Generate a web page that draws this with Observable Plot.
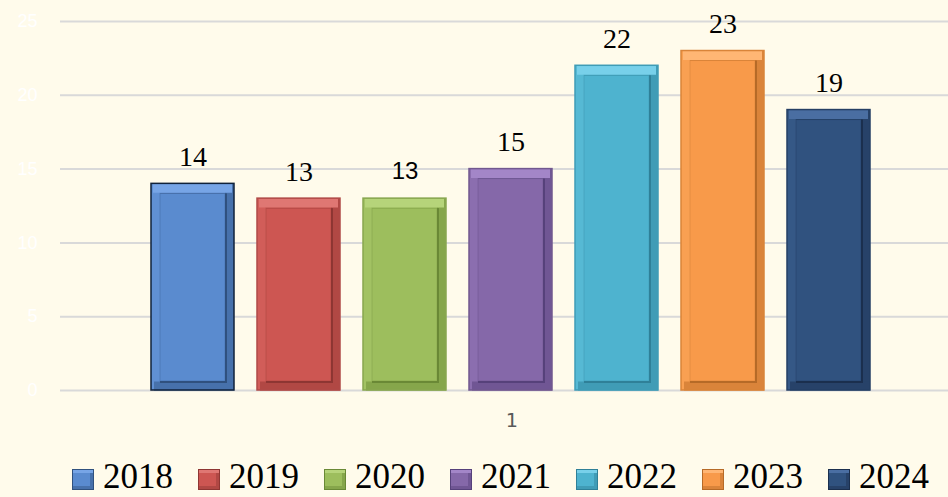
<!DOCTYPE html>
<html>
<head>
<meta charset="utf-8">
<script src="https://cdn.jsdelivr.net/npm/d3@7"></script>
<script src="https://cdn.jsdelivr.net/npm/@observablehq/plot@0.6"></script>
<style>
  html, body { margin: 0; padding: 0; background: #fffbeb; }
  #wrap { width: 948px; height: 497px; overflow: hidden; background: #fffbeb; }
  #legend { height: 57px; display: flex; align-items: flex-start; padding-left: 72px; box-sizing: border-box; padding-top: 23px; }
  .item { display: flex; align-items: flex-start; margin-right: 25px; }
  .sw { width: 20px; height: 19px; border: 1px solid #000; margin-right: 9px; margin-top: 6px; box-sizing: content-box; }
  .lab { font-family: "Liberation Serif", "Times New Roman", serif; font-size: 35px; line-height: 28px; color: #000; }
</style>
</head>
<body>
<div id="wrap">
  <div id="chart"></div>
  <div id="legend"></div>
</div>
<script>
// ---- data ----
const categories = ["1"];
const years = ["2018", "2019", "2020", "2021", "2022", "2023", "2024"];
const values = [14, 13, 13, 15, 22, 23, 19];
const yTicks = [0, 5, 10, 15, 20, 25];

// ---- palette (style) ----
const faceColors   = ["#5a8bcf", "#cd5652", "#9dbe5d", "#8568a9", "#4eb3cf", "#f89a4a", "#30527f"];
const lightColors  = ["#77a5e6", "#df7773", "#b6d47a", "#a386c8", "#78d0ea", "#ffb674", "#4a6ea2"];
const darkColors   = ["#30517e", "#8e3633", "#6a8936", "#56417b", "#2f8098", "#b66a27", "#1b2f4e"];
const borderColors = ["#10223a", "#b04a47", "#88a64f", "#71588f", "#3f9cb6", "#d98439", "#253f64"];
const midColors    = faceColors.map((c, i) => d3.interpolateRgb(c, darkColors[i])(0.45));
const leftColors   = faceColors.map((c, i) => d3.interpolateRgb(c, lightColors[i])(0.2));

const rows = years.map((yr, i) => ({category: categories[0], year: yr, value: values[i], i}));
const pick = (arr) => (d) => arr[d.i];

const common = {fx: "category", x: "year", y: "value"};

const chart = Plot.plot({
  width: 948,
  height: 440,
  marginLeft: 60,
  marginRight: 0,
  marginTop: 21,
  marginBottom: 50,
  style: {background: "#fffbeb", overflow: "visible"},
  fx: {domain: categories, paddingInner: 0, paddingOuter: 0, label: null},
  x: {domain: years, paddingInner: 0.217, paddingOuter: 0.797, align: 0.54, axis: null},
  y: {domain: [0, 25], axis: null},
  color: {type: "identity"},
  marks: [
    Plot.ruleY(yTicks, {stroke: "#d9d9d9", strokeWidth: 2}),
    Plot.axisY(yTicks, {tickSize: 0, tickPadding: 23, fill: "#ffffff", fontSize: 18,
      fontFamily: "Liberation Sans, Arial, sans-serif", label: null}),
    Plot.axisFx({anchor: "bottom", tickSize: 0, tickPadding: 22, fontSize: 20, fill: "#595959",
      fontFamily: "DejaVu Sans Mono, DejaVu Sans, sans-serif", label: null, dx: 7}),
    // bevelled bars built from stacked layers
    Plot.barY(rows, {...common, fill: pick(midColors)}),
    Plot.barY(rows, {...common, fill: pick(leftColors), insetRight: 9}),
    Plot.tickY(rows, {fx: "category", x: "year", y: () => 0, stroke: pick(midColors), strokeWidth: 9, dy: -4.5, insetLeft: 3}),
    Plot.tickY(rows, {...common, stroke: pick(lightColors), strokeWidth: 9, dy: 4.5, insetLeft: 2, insetRight: 2}),
    Plot.barY(rows, {...common, fill: pick(darkColors), insetLeft: 9, insetTop: 10, insetRight: 7, insetBottom: 7}),
    Plot.barY(rows, {...common, fill: pick(faceColors), stroke: pick(darkColors), strokeOpacity: 0.3,
      insetLeft: 9, insetTop: 10, insetRight: 9, insetBottom: 9}),
    Plot.barY(rows, {...common, fill: "none", stroke: pick(borderColors), strokeWidth: 1.5}),
    // value labels
    Plot.text(rows.filter(d => d.year !== "2020"), {...common, text: d => String(d.value),
      lineAnchor: "bottom", dy: -18, fontSize: 28, fill: "#000",
      fontFamily: "Liberation Serif, Times New Roman, serif"}),
    Plot.text(rows.filter(d => d.year === "2020"), {...common, text: d => String(d.value),
      lineAnchor: "bottom", dy: -20, fontSize: 24, fill: "#000",
      fontFamily: "Liberation Sans, Arial, sans-serif"})
  ]
});
document.getElementById("chart").appendChild(chart);

// legend
const legend = document.getElementById("legend");
years.forEach((yr, i) => {
  const item = document.createElement("div");
  item.className = "item";
  const sw = document.createElement("div");
  sw.className = "sw";
  sw.style.background = faceColors[i];
  sw.style.borderColor = darkColors[i];
  sw.style.boxShadow = `inset 0 3px 0 ${lightColors[i]}, inset -3px -3px 0 ${midColors[i]}`;
  const lab = document.createElement("span");
  lab.className = "lab";
  lab.textContent = yr;
  item.appendChild(sw);
  item.appendChild(lab);
  legend.appendChild(item);
});
</script>
</body>
</html>
